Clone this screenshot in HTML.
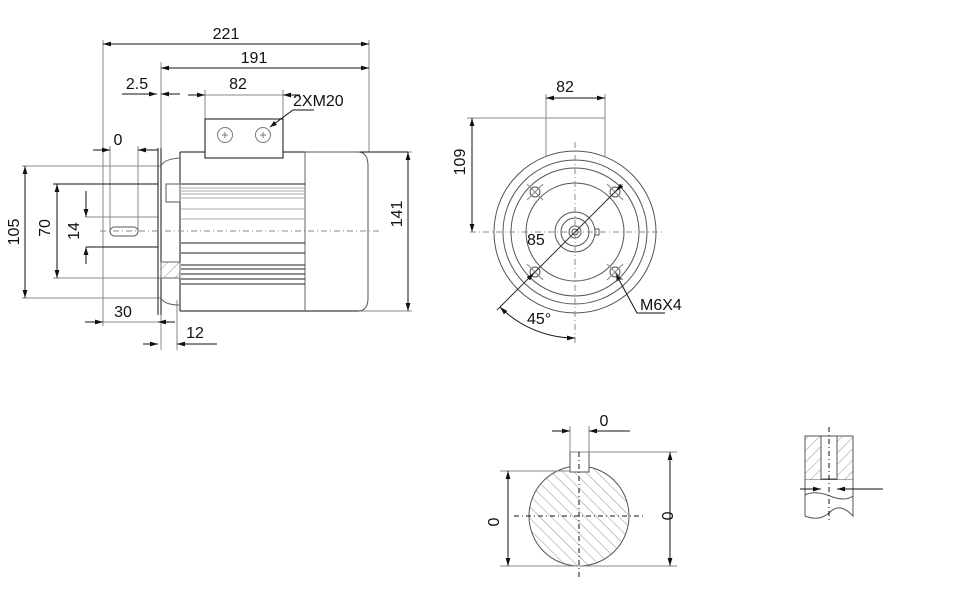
<!DOCTYPE html>
<html><head><meta charset="utf-8"><style>
html,body{margin:0;padding:0;background:#fff;}
svg{display:block;font-family:"Liberation Sans",sans-serif;}
text{font-size:16px;fill:#111;}
</style></head><body>
<svg width="976" height="600" viewBox="0 0 976 600" xmlns="http://www.w3.org/2000/svg">
<defs>
<marker id="a" viewBox="0 0 10 6" refX="10" refY="3" markerWidth="8" markerHeight="5" orient="auto-start-reverse" markerUnits="userSpaceOnUse"><path d="M0,0L10,3L0,6z" fill="#111"/></marker>
<pattern id="h" width="8" height="8" patternUnits="userSpaceOnUse" patternTransform="rotate(-45)"><line x1="0" y1="0" x2="0" y2="8" stroke="#777" stroke-width="0.8"/></pattern>
<pattern id="h2" width="8" height="8" patternUnits="userSpaceOnUse" patternTransform="rotate(45)"><line x1="0" y1="0" x2="0" y2="8" stroke="#777" stroke-width="0.8"/></pattern>
<clipPath id="cc"><circle cx="579" cy="516" r="50"/></clipPath>
</defs>
<g stroke="#888" stroke-width="1" fill="none">
<line x1="103" y1="40" x2="103" y2="326"/>
<line x1="369" y1="40" x2="369" y2="152"/>
<line x1="161" y1="62" x2="161" y2="350"/>
<line x1="205" y1="90" x2="205" y2="119"/>
<line x1="283" y1="90" x2="283" y2="119"/>
<line x1="110" y1="146" x2="110" y2="232"/>
<line x1="138" y1="146" x2="138" y2="232"/>
<line x1="22" y1="166" x2="161" y2="166"/>
<line x1="22" y1="298" x2="161" y2="298"/>
<line x1="53" y1="278" x2="161" y2="278"/>
<line x1="86" y1="217" x2="158" y2="217"/>
<line x1="177" y1="300" x2="177" y2="350"/>
<line x1="305" y1="152" x2="412" y2="152"/>
<line x1="360" y1="311" x2="412" y2="311"/>
<line x1="103" y1="44" x2="369" y2="44" marker-start="url(#a)" marker-end="url(#a)" stroke="#111"/>
<line x1="161" y1="68" x2="369" y2="68" marker-start="url(#a)" marker-end="url(#a)" stroke="#111"/>
<line x1="122" y1="94" x2="157" y2="94" marker-end="url(#a)" stroke="#111"/>
<line x1="180" y1="94" x2="161" y2="94" marker-end="url(#a)" stroke="#111"/>
<line x1="188" y1="95" x2="205" y2="95" marker-end="url(#a)" stroke="#111"/>
<line x1="205" y1="95" x2="283" y2="95"/>
<line x1="300" y1="95" x2="283" y2="95" marker-end="url(#a)" stroke="#111"/>
<line x1="93" y1="150" x2="110" y2="150" marker-end="url(#a)" stroke="#111"/>
<line x1="158" y1="150" x2="138" y2="150" marker-end="url(#a)" stroke="#111"/>
<line x1="25" y1="166" x2="25" y2="298" marker-start="url(#a)" marker-end="url(#a)" stroke="#111"/>
<line x1="57" y1="184" x2="57" y2="278" marker-start="url(#a)" marker-end="url(#a)" stroke="#111"/>
<line x1="86" y1="191" x2="86" y2="217" marker-end="url(#a)" stroke="#111"/>
<line x1="86" y1="264" x2="86" y2="247" marker-end="url(#a)" stroke="#111"/>
<line x1="408" y1="152" x2="408" y2="311" marker-start="url(#a)" marker-end="url(#a)" stroke="#111"/>
<line x1="85" y1="322" x2="103" y2="322" marker-end="url(#a)" stroke="#111"/>
<line x1="103" y1="322" x2="158" y2="322"/>
<line x1="175" y1="322" x2="158" y2="322" marker-end="url(#a)" stroke="#111"/>
<line x1="143" y1="344" x2="158" y2="344" marker-end="url(#a)" stroke="#111"/>
<line x1="217" y1="344" x2="177" y2="344" marker-end="url(#a)" stroke="#111"/>
<polyline points="314,110 293,110 270,127" stroke="#111"/>
<path d="M270,127l7,-2l-3,-4z" fill="#111" stroke="none"/>
</g>
<g stroke="#111" stroke-width="1" fill="none">
<rect x="205" y="119" width="78" height="39"/>
<circle cx="225" cy="135" r="7.5" stroke="#777"/><circle cx="263" cy="135" r="7.5" stroke="#777"/>
<path d="M222,135h6M225,132v6M260,135h6M263,132v6" stroke="#777"/>
<line x1="180" y1="152" x2="205" y2="152"/>
<line x1="283" y1="152" x2="408" y2="152"/>
<line x1="180" y1="152" x2="180" y2="311"/>
<line x1="180" y1="311" x2="360" y2="311"/>
<line x1="305" y1="152" x2="305" y2="311" stroke="#666"/>
<path d="M305,152H358Q368,152 368,166V298Q368,311 358,311" stroke="#555"/>
<line x1="158" y1="148" x2="158" y2="315"/>
<line x1="161" y1="148" x2="161" y2="315"/>
<path d="M161,166Q164,159 180,158" stroke="#666"/>
<path d="M161,298Q164,305 180,305" stroke="#666"/>
<rect x="166" y="184" width="14" height="18" stroke="#555"/>
<g stroke="#222">
<line x1="181" y1="184" x2="305" y2="184"/><line x1="181" y1="188" x2="305" y2="188" stroke="#aaa"/>
<line x1="181" y1="191" x2="305" y2="191" stroke="#aaa"/><line x1="181" y1="194" x2="305" y2="194" stroke="#aaa"/>
<line x1="181" y1="198" x2="305" y2="198" stroke="#aaa"/><line x1="181" y1="209" x2="305" y2="209" stroke="#aaa"/>
<line x1="181" y1="219" x2="305" y2="219" stroke="#aaa"/><line x1="181" y1="243" x2="305" y2="243"/>
<line x1="181" y1="253" x2="305" y2="253"/><line x1="181" y1="265" x2="305" y2="265"/>
<line x1="181" y1="269" x2="305" y2="269"/><line x1="181" y1="274" x2="305" y2="274"/>
<line x1="181" y1="279" x2="305" y2="279"/><line x1="181" y1="284" x2="305" y2="284"/>
</g>
<line x1="53" y1="184" x2="158" y2="184"/>
<line x1="86" y1="247" x2="158" y2="247"/>
<rect x="110" y="227" width="28" height="9" rx="4.5" stroke="#555"/>
<rect x="161" y="262" width="19" height="16" fill="url(#h2)" stroke="#666"/>
<line x1="100" y1="231" x2="380" y2="231" stroke="#888" stroke-dasharray="6,3,1,3"/>
</g>
<text x="226" y="39" text-anchor="middle">221</text><text x="254" y="63" text-anchor="middle">191</text>
<text x="137" y="89" text-anchor="middle">2.5</text><text x="238" y="89" text-anchor="middle">82</text>
<text x="293" y="106">2XM20</text><text x="118" y="145" text-anchor="middle">0</text>
<text x="123" y="317" text-anchor="middle">30</text><text x="195" y="338" text-anchor="middle">12</text>
<text transform="translate(19,232) rotate(-90)" text-anchor="middle">105</text>
<text transform="translate(50,228) rotate(-90)" text-anchor="middle">70</text>
<text transform="translate(79,231) rotate(-90)" text-anchor="middle">14</text>
<text transform="translate(402,214) rotate(-90)" text-anchor="middle">141</text>
<g stroke="#555" stroke-width="1" fill="none">
<line x1="546" y1="94" x2="546" y2="156" stroke="#888"/><line x1="605" y1="94" x2="605" y2="156" stroke="#888"/>
<line x1="546" y1="98" x2="605" y2="98" marker-start="url(#a)" marker-end="url(#a)" stroke="#111"/>
<line x1="467" y1="118" x2="605" y2="118" stroke="#888"/>
<line x1="472" y1="118" x2="472" y2="232" marker-start="url(#a)" marker-end="url(#a)" stroke="#111"/>
<circle cx="575" cy="232" r="81"/><circle cx="575" cy="232" r="72"/><circle cx="575" cy="232" r="64"/>
<circle cx="575" cy="232" r="49"/><circle cx="575" cy="232" r="20"/><circle cx="575" cy="232" r="14"/>
<circle cx="575" cy="232" r="6"/><circle cx="575" cy="232" r="3"/>
<rect x="595" y="229" width="4" height="6"/>
<line x1="470" y1="232" x2="665" y2="232" stroke="#888" stroke-dasharray="6,3,1,3"/>
<line x1="575" y1="142" x2="575" y2="345" stroke="#888" stroke-dasharray="6,3,1,3"/>
<circle cx="535" cy="192" r="5"/><circle cx="615" cy="192" r="5"/><circle cx="535" cy="272" r="5"/><circle cx="615" cy="272" r="5"/>
<path d="M527,184l16,16M527,200l16,-16M607,184l16,16M607,200l16,-16M527,264l16,16M527,280l16,-16M607,264l16,16M607,280l16,-16" stroke="#888"/>
<line x1="497" y1="310" x2="621" y2="186" stroke="#333"/>
<line x1="529" y1="278" x2="534" y2="273" marker-end="url(#a)" stroke="#111"/>
<line x1="621" y1="186" x2="616" y2="191" marker-end="url(#a)" stroke="#111"/>
<path d="M500,307A106,106 0 0 0 575,338" stroke="#111" marker-start="url(#a)" marker-end="url(#a)"/>
<polyline points="665,313 637,313 617,276" stroke="#111"/>
<path d="M616,273l1,8l4,-2z" fill="#111"/>
</g>
<text x="565" y="92" text-anchor="middle">82</text><text x="527" y="245">85</text><text x="527" y="324">45°</text>
<text x="640" y="310">M6X4</text>
<text transform="translate(465,162) rotate(-90)" text-anchor="middle">109</text>
<g stroke="#555" fill="none">
<rect x="529" y="466" width="100" height="100" fill="url(#h)" clip-path="url(#cc)" stroke="none"/>
<circle cx="579" cy="516" r="50"/>
<rect x="570" y="452" width="19" height="20" fill="#fff"/>
<line x1="570" y1="452" x2="677" y2="452" stroke="#888"/>
<line x1="500" y1="471" x2="570" y2="471" stroke="#888"/>
<line x1="500" y1="566" x2="677" y2="566" stroke="#888"/>
<line x1="570" y1="426" x2="570" y2="452" stroke="#888"/><line x1="589" y1="426" x2="589" y2="452" stroke="#888"/>
<line x1="552" y1="431" x2="570" y2="431" marker-end="url(#a)" stroke="#111"/>
<line x1="630" y1="431" x2="589" y2="431" marker-end="url(#a)" stroke="#111"/>
<line x1="508" y1="471" x2="508" y2="566" marker-start="url(#a)" marker-end="url(#a)" stroke="#111"/>
<line x1="670" y1="452" x2="670" y2="566" marker-start="url(#a)" marker-end="url(#a)" stroke="#111"/>
<line x1="514" y1="516" x2="645" y2="516" stroke="#111" stroke-dasharray="5,3,1,3"/>
<line x1="579" y1="452" x2="579" y2="578" stroke="#111" stroke-dasharray="5,3,1,3"/>
<rect x="805" y="436" width="48" height="44" fill="url(#h2)" stroke="#555"/>
<rect x="821" y="436" width="16" height="43" fill="#fff"/>
<line x1="821" y1="479" x2="837" y2="479"/><line x1="821" y1="486" x2="837" y2="486"/>
<path d="M805,480V516Q820,522 830,512T853,516V480" fill="#fff"/>
<path d="M805,495Q815,490 830,496T853,496" />
<line x1="829" y1="427" x2="829" y2="523" stroke="#111" stroke-dasharray="5,3,1,3"/>
<line x1="800" y1="489" x2="821" y2="489" marker-end="url(#a)" stroke="#111"/>
<line x1="883" y1="489" x2="837" y2="489" marker-end="url(#a)" stroke="#111"/>
</g>
<text x="604" y="426" text-anchor="middle">0</text>
<text transform="translate(499,522) rotate(-90)" text-anchor="middle">0</text>
<text transform="translate(662,516) rotate(90)" text-anchor="middle">0</text>
</svg>
</body></html>
